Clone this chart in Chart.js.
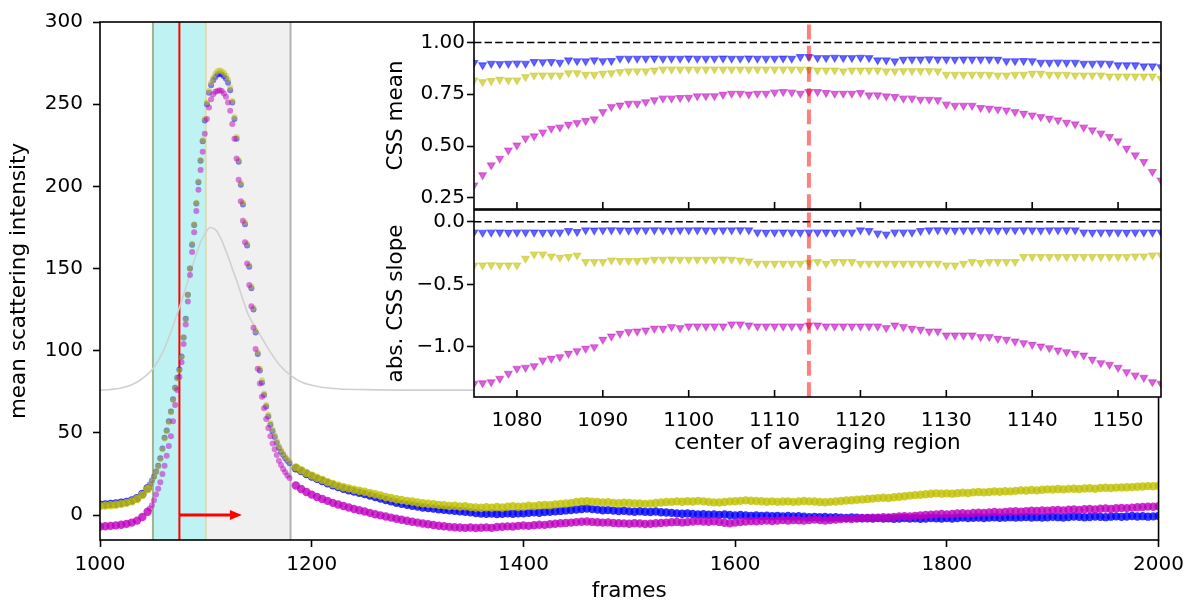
<!DOCTYPE html>
<html><head><meta charset="utf-8">
<script src="https://cdn.jsdelivr.net/npm/chart.js@4.4.0/dist/chart.umd.min.js"></script>
<style>
html,body{margin:0;padding:0;background:#fff;}
#wrap{position:relative;width:1190px;height:604px;overflow:hidden;}
canvas{position:absolute;left:0;top:0;width:1190px;height:604px;}
</style></head>
<body><div id="wrap">
<canvas id="main" width="1190" height="604"></canvas>
<canvas id="insetTop" width="1190" height="604"></canvas>
<canvas id="insetBot" width="1190" height="604"></canvas>
</div>
<script>
// ---------- main panel: frame sampling ----------
const headFrames = [1000,1005,1010,1015,1020,1025,1030,1035,1040,1045];
const peakFrames = Array.from({length:67},(_,i)=>1047+2*i);   // 1047..1179
const tailFrames = Array.from({length:164},(_,i)=>1185+5*i);  // 1185..2000

const yellowHead = [5.5,5.7,6.0,6.3,6.8,7.4,8.3,9.8,12.2,15.8];
const yellowPeak = [18,20.5,23,26,29.5,34,40,46.5,51,56.5,
  62.5,70,77,83,88,96,108,119,134,150,
  165,177,190,203,216,228,241,251,258,263,
  266,268.5,270,270.5,270,269,267.5,265,260,252,
  242,230,216,202,190,178,165,152,139,126,
  112,99,89,82,74,67,61,56,52,48.5,
  45,42,39.5,37.5,35.5,34,32.5];
const yellowTail = [29.0,27.2,25.6,24.0,22.6,21.4,20.0,18.9,17.8,16.9,
  16.2,15.4,14.8,14.2,13.4,12.6,11.9,11.0,10.4,9.6,
  9.1,8.6,8.2,7.6,7.2,6.9,6.6,6.2,6.0,5.5,
  5.6,5.2,5.3,4.8,4.6,4.4,4.7,4.5,4.9,4.6,
  5.0,5.3,5.0,5.2,5.6,5.4,5.9,6.1,6.0,6.5,
  6.8,7.0,7.4,7.9,8.3,8.4,8.1,8.0,7.7,7.8,
  7.4,7.2,7.5,7.3,7.0,7.1,6.8,6.9,7.3,7.6,
  7.9,8.0,8.3,8.1,8.4,8.2,8.6,8.3,8.0,7.7,
  7.6,7.9,8.3,8.4,8.6,8.9,8.7,8.5,8.4,8.1,
  8.3,8.0,8.2,8.3,8.0,8.2,8.5,8.3,8.2,7.9,
  7.8,8.0,8.2,8.5,8.8,9.0,9.3,9.5,9.8,10.0,
  10.3,10.5,10.4,10.8,11.1,11.4,11.8,12.1,12.3,12.6,
  12.9,13.2,13.0,13.2,13.0,13.3,13.6,13.4,13.8,14.0,
  13.8,14.0,14.3,14.2,14.5,14.4,14.7,15.0,14.9,15.2,
  15.0,15.4,15.6,15.5,15.8,15.6,15.9,16.0,15.8,16.1,
  16.3,16.0,16.4,16.6,16.4,16.7,16.8,16.9,17.0,17.2,
  17.4,17.6,17.5,17.8];

const blueHead = [6.3,6.5,6.8,7.0,7.5,8.0,8.9,10.3,12.8,16.3];
const bluePeak = [18.5,21,23.5,26.5,30,34.5,40.5,47,51.5,57,
  63,70.5,77.5,83.5,88.5,96.5,108,119.5,134,150,
  164.5,176.5,189.5,202.5,215.5,227.5,240,250,257,261.5,
  264.5,266.5,268,268.5,268,267,265.5,263,258.5,251,
  241,229,215,201,189,177,164,151,138,125,
  111,98,88,80.5,73,66,60,55,51,47.5,
  44,41,38.5,36.5,34.5,33,31.5];
const blueTail = [28.5,26.7,25.0,23.4,22.0,20.7,19.3,18.1,17.0,16.0,
  15.1,14.3,13.5,12.7,11.8,10.9,10.0,9.1,8.3,7.5,
  6.8,6.2,5.6,5.1,4.6,4.2,3.9,3.5,3.2,2.9,
  2.6,2.3,2.0,1.6,1.2,0.9,0.7,0.9,0.6,0.8,
  1.0,0.8,1.1,1.0,1.3,1.6,1.4,1.8,2.0,2.3,
  2.5,2.8,3.1,3.4,3.7,4.0,3.6,3.3,2.9,3.0,
  2.7,2.4,2.6,2.2,2.0,2.3,2.0,1.8,2.1,1.7,
  1.5,1.3,1.0,0.8,0.9,0.6,0.4,0.5,0.2,0.4,
  0.1,0.3,0.0,-0.2,0.1,-0.3,-0.5,-0.2,-0.6,-0.4,
  -0.7,-0.5,-0.8,-0.6,-0.9,-0.7,-1.0,-1.3,-1.1,-1.4,
  -1.2,-1.5,-1.3,-1.6,-1.8,-1.5,-1.7,-2.0,-1.8,-2.1,
  -1.9,-2.2,-2.0,-2.3,-2.1,-1.9,-2.2,-2.0,-2.3,-2.1,
  -1.8,-2.0,-2.2,-1.9,-2.1,-1.8,-1.6,-1.9,-1.7,-1.5,
  -1.8,-1.6,-1.4,-1.7,-1.5,-1.3,-1.6,-1.4,-1.2,-1.5,
  -1.3,-1.6,-1.4,-1.1,-1.3,-1.5,-1.2,-0.9,-1.1,-1.4,
  -1.2,-0.9,-1.1,-1.3,-1.0,-0.8,-1.1,-0.9,-0.6,-0.9,
  -0.7,-1.0,-0.8,-0.6];

const magentaHead = [-7,-6.8,-6.6,-6.3,-5.9,-5.4,-4.6,-3.4,-1.2,2.0];
const magentaPeak = [4,6,9,12.5,16,20,25,30,36,42,
  48,57,67,76,84,93,104,116,130,146,
  160,172,185,198,210,221,232,241,248,253,
  256,257.5,258,258.5,258,256.5,254.5,251,246,238,
  229,217,204,191,179,166,153,140,127,114,
  101,89,80,72,65,58.5,53,48,43.5,40,
  36.5,33,30.5,28,26,24,22.5];
const magentaTail = [18.0,15.8,14.0,12.4,11.0,9.8,8.6,7.4,6.4,5.5,
  4.6,3.7,2.9,2.1,1.3,0.5,-0.2,-0.9,-1.6,-2.3,
  -2.9,-3.5,-4.1,-4.6,-5.2,-5.6,-6.1,-6.5,-6.8,-7.2,
  -7.4,-7.6,-7.8,-7.6,-7.9,-7.7,-7.5,-7.8,-7.3,-7.1,
  -6.9,-7.0,-6.6,-6.4,-6.6,-6.2,-5.9,-6.0,-5.6,-5.3,
  -5.0,-4.8,-4.6,-4.3,-4.1,-3.9,-4.2,-4.4,-4.6,-4.5,
  -4.8,-5.0,-5.1,-5.3,-5.0,-5.2,-5.5,-5.3,-5.0,-4.8,
  -4.6,-4.4,-4.2,-4.5,-4.3,-4.0,-3.7,-3.9,-4.1,-3.8,
  -4.2,-4.7,-5.0,-4.6,-4.3,-3.9,-3.6,-3.8,-3.5,-3.3,
  -3.6,-3.4,-3.1,-3.3,-3.0,-3.2,-3.4,-3.1,-2.8,-3.0,
  -3.3,-3.0,-2.7,-2.5,-2.2,-2.4,-2.1,-1.8,-2.0,-1.7,
  -1.6,-1.4,-1.5,-1.1,-0.9,-0.7,-0.9,-0.5,-0.2,0.0,
  0.2,0.4,0.6,0.3,0.6,0.9,1.1,0.8,1.2,1.4,
  1.3,1.6,1.8,1.5,1.9,2.1,2.3,2.0,2.4,2.6,
  2.5,2.8,2.6,2.9,3.1,2.8,3.2,3.4,3.1,3.5,
  3.7,3.4,3.8,4.0,3.7,4.1,4.3,4.2,4.5,4.7,
  4.9,5.1,5.0,5.3];

// light gray reference curve
const grayFrames = [1000,1010,1020,1030,1040,1050,1060,1070,1080,1090,1095,1100,1104,1110,1115,1120,1125,1130,1135,1140,1145,1150,1160,1170,1180,1190,1200,1220,1250,1300,1400,1500,2000];
const grayValues = [76,76.4,77.3,79.3,83,89,100,117,136,157,166,172,175,173,167,159,150,141,131,122,116,111,100,91,85,81,79,77,76.3,76,76,76,76];

// annotations (frames)
const averagingStart = 1050, averagingEnd = 1100, windowEnd = 1180, startFrame = 1075, arrowEnd = 1134;

const mainXTicks = [1000,1200,1400,1600,1800,2000];
const mainYTicks = [0,50,100,150,200,250,300];

// ---------- insets ----------
const insetCenters = Array.from({length:81},(_,i)=>1075+i); // 1075..1155
const chosenCenter = 1114;
const insetXTicks = [1080,1090,1100,1110,1120,1130,1140,1150];
const meanYTicks = [0.25,0.50,0.75,1.00];
const slopeYTicks = [-1.0,-0.5,0.0];

const meanBlue = [0.902,0.891,0.898,0.897,0.898,0.899,0.898,0.907,0.906,0.907,
  0.903,0.915,0.911,0.910,0.915,0.911,0.912,0.923,0.922,0.923,
  0.923,0.924,0.922,0.923,0.923,0.924,0.923,0.922,0.923,0.924,
  0.923,0.923,0.924,0.923,0.922,0.923,0.924,0.923,0.931,0.931,
  0.926,0.926,0.927,0.926,0.926,0.927,0.926,0.915,0.915,0.910,
  0.918,0.919,0.919,0.920,0.919,0.919,0.918,0.919,0.919,0.919,
  0.919,0.918,0.911,0.911,0.912,0.911,0.903,0.903,0.904,0.903,
  0.903,0.898,0.898,0.899,0.898,0.891,0.891,0.891,0.886,0.886,
  0.882];
const meanYellow = [0.818,0.810,0.815,0.821,0.818,0.818,0.834,0.842,0.842,0.842,
  0.842,0.853,0.853,0.845,0.845,0.850,0.853,0.858,0.862,0.862,
  0.862,0.866,0.870,0.870,0.870,0.871,0.870,0.870,0.871,0.870,
  0.870,0.871,0.870,0.870,0.871,0.870,0.870,0.871,0.870,0.870,
  0.866,0.866,0.866,0.862,0.866,0.866,0.866,0.866,0.862,0.862,
  0.863,0.863,0.863,0.863,0.862,0.845,0.845,0.845,0.845,0.845,
  0.845,0.842,0.842,0.845,0.845,0.850,0.850,0.845,0.845,0.845,
  0.842,0.842,0.842,0.842,0.837,0.837,0.837,0.837,0.837,0.837,
  0.826];
const meanMagenta = [0.311,0.360,0.408,0.440,0.480,0.504,0.537,0.548,0.566,0.585,
  0.590,0.604,0.612,0.622,0.630,0.665,0.689,0.697,0.705,0.705,
  0.713,0.722,0.730,0.730,0.733,0.734,0.741,0.742,0.742,0.749,
  0.754,0.754,0.750,0.754,0.754,0.759,0.762,0.759,0.754,0.762,
  0.762,0.757,0.754,0.754,0.754,0.757,0.746,0.746,0.741,0.738,
  0.730,0.730,0.725,0.725,0.722,0.701,0.695,0.695,0.695,0.685,
  0.681,0.678,0.673,0.665,0.657,0.649,0.641,0.633,0.625,0.614,
  0.606,0.590,0.577,0.561,0.545,0.524,0.488,0.456,0.424,0.376,
  0.335];

const slopeBlue = [-0.085,-0.087,-0.085,-0.084,-0.086,-0.085,-0.085,-0.084,-0.086,-0.085,
  -0.085,-0.072,-0.080,-0.067,-0.068,-0.067,-0.066,-0.067,-0.068,-0.067,
  -0.067,-0.066,-0.067,-0.068,-0.067,-0.067,-0.066,-0.067,-0.068,-0.067,
  -0.067,-0.066,-0.067,-0.085,-0.086,-0.085,-0.084,-0.085,-0.086,-0.085,
  -0.085,-0.084,-0.086,-0.085,-0.085,-0.067,-0.072,-0.093,-0.101,-0.085,
  -0.085,-0.085,-0.072,-0.067,-0.066,-0.067,-0.068,-0.067,-0.067,-0.066,
  -0.067,-0.068,-0.067,-0.067,-0.066,-0.067,-0.068,-0.067,-0.067,-0.066,
  -0.067,-0.085,-0.086,-0.085,-0.084,-0.085,-0.086,-0.085,-0.085,-0.084,
  -0.085];
const slopeYellow = [-0.347,-0.347,-0.346,-0.347,-0.348,-0.347,-0.293,-0.259,-0.259,-0.275,
  -0.285,-0.280,-0.267,-0.320,-0.320,-0.320,-0.307,-0.312,-0.312,-0.312,
  -0.307,-0.301,-0.301,-0.300,-0.301,-0.301,-0.302,-0.301,-0.301,-0.300,
  -0.301,-0.307,-0.315,-0.333,-0.333,-0.334,-0.333,-0.333,-0.333,-0.325,
  -0.320,-0.333,-0.320,-0.320,-0.320,-0.333,-0.333,-0.333,-0.333,-0.333,
  -0.333,-0.333,-0.333,-0.333,-0.333,-0.347,-0.347,-0.333,-0.320,-0.328,
  -0.320,-0.320,-0.320,-0.320,-0.280,-0.280,-0.280,-0.280,-0.280,-0.280,
  -0.280,-0.280,-0.280,-0.280,-0.280,-0.280,-0.280,-0.275,-0.275,-0.267,
  -0.267];
const slopeMagenta = [-1.293,-1.288,-1.280,-1.253,-1.213,-1.173,-1.165,-1.152,-1.107,-1.093,
  -1.080,-1.053,-1.032,-1.013,-1.000,-0.941,-0.915,-0.893,-0.880,-0.875,
  -0.867,-0.853,-0.853,-0.840,-0.848,-0.835,-0.835,-0.835,-0.835,-0.835,
  -0.819,-0.819,-0.827,-0.835,-0.835,-0.835,-0.835,-0.835,-0.835,-0.827,
  -0.827,-0.835,-0.835,-0.835,-0.835,-0.835,-0.835,-0.835,-0.848,-0.827,
  -0.840,-0.853,-0.861,-0.875,-0.875,-0.907,-0.907,-0.907,-0.907,-0.920,
  -0.920,-0.933,-0.941,-0.955,-0.968,-0.981,-0.995,-1.008,-1.027,-1.040,
  -1.053,-1.067,-1.101,-1.128,-1.141,-1.165,-1.200,-1.227,-1.245,-1.280,
  -1.293];

// ---------- helpers ----------
Chart.defaults.font.family = "'DejaVu Sans', sans-serif";
Chart.defaults.font.size = 20;
Chart.defaults.color = '#000';
const titleFont = {family:"'DejaVu Sans', sans-serif", size:21.5};

const pts = (xs, ys) => xs.map((x,i)=>({x, y: ys[i]}));
const scanFrames = headFrames.concat(peakFrames, tailFrames);
const BLUE='0,0,255', YEL='191,191,0', MAG='191,0,191';
const dense = (ctx) => ctx.raw && (ctx.raw.x < 1046 || ctx.raw.x > 1182);
const dotColor = (rgb) => (ctx) => dense(ctx) ? `rgba(${rgb},0.8)` : `rgba(${rgb},0.5)`;
const dotRadius = (ctx) => dense(ctx) ? 4.2 : 3.0;
const fixTicks = (arr) => (s) => { s.ticks = arr.map(v=>({value:v})); };
const minus = (s) => s.replace('-', '\u2212');

function frame(chart){
  const {ctx, chartArea:a} = chart;
  ctx.save(); ctx.strokeStyle='#000'; ctx.lineWidth=1.6;
  ctx.strokeRect(a.left, a.top, a.right-a.left, a.bottom-a.top);
  ctx.restore();
}
function vline(ctx, x, a, color, w){
  ctx.beginPath(); ctx.strokeStyle=color; ctx.lineWidth=w;
  ctx.moveTo(x, a.bottom); ctx.lineTo(x, a.top); ctx.stroke();
}

const mainDecor = {
  id:'mainDecor',
  beforeDatasetsDraw(chart){
    const {ctx, chartArea:a, scales:{x}} = chart;
    const c0=x.getPixelForValue(averagingStart), c1=x.getPixelForValue(averagingEnd), g1=x.getPixelForValue(windowEnd);
    ctx.save();
    ctx.fillStyle='#f0f0f0'; ctx.fillRect(c1, a.top, g1-c1, a.bottom-a.top);
    ctx.fillStyle='#bff2f2'; ctx.fillRect(c0, a.top, c1-c0, a.bottom-a.top);
    vline(ctx, c0, a, '#a2b28e', 2);
    vline(ctx, c1, a, '#dcdcb4', 2);
    vline(ctx, g1, a, '#b4b4b4', 2);
    vline(ctx, x.getPixelForValue(startFrame), a, '#ff0000', 2);
    ctx.restore();
  },
  afterDatasetsDraw(chart){
    const {ctx, scales:{x,y}} = chart;
    const x0=x.getPixelForValue(startFrame), x1=x.getPixelForValue(arrowEnd), y0=y.getPixelForValue(0);
    ctx.save();
    ctx.strokeStyle='#ff0000'; ctx.fillStyle='#ff0000'; ctx.lineWidth=3;
    ctx.beginPath(); ctx.moveTo(x0, y0); ctx.lineTo(x1-10, y0); ctx.stroke();
    ctx.beginPath(); ctx.moveTo(x1, y0); ctx.lineTo(x1-12, y0-5); ctx.lineTo(x1-12, y0+5); ctx.closePath(); ctx.fill();
    ctx.restore();
  },
  afterDraw(chart){ frame(chart); }
};

function insetDecor(refY){
  return {
    id:'insetDecor',
    beforeDraw(chart){
      const {ctx, chartArea:a} = chart;
      ctx.save(); ctx.fillStyle='#fff'; ctx.fillRect(a.left, a.top, a.right-a.left, a.bottom-a.top); ctx.restore();
    },
    beforeDatasetsDraw(chart){
      const {ctx, chartArea:a, scales:{y}} = chart;
      const py = y.getPixelForValue(refY);
      ctx.save(); ctx.strokeStyle='#000'; ctx.lineWidth=1.6; ctx.setLineDash([7.4,3.2]);
      ctx.beginPath(); ctx.moveTo(a.left, py); ctx.lineTo(a.right, py); ctx.stroke(); ctx.restore();
    },
    afterDatasetsDraw(chart){
      const {ctx, chartArea:a, scales:{x}} = chart;
      const px = x.getPixelForValue(chosenCenter);
      ctx.save(); ctx.beginPath(); ctx.rect(a.left, a.top, a.right-a.left, a.bottom-a.top); ctx.clip();
      ctx.strokeStyle='rgba(255,0,0,0.5)'; ctx.lineWidth=4; ctx.setLineDash([14.8,6.4]);
      ctx.beginPath(); ctx.moveTo(px, a.bottom); ctx.lineTo(px, a.top); ctx.stroke(); ctx.restore();
    },
    afterDraw(chart){
      const {ctx, chartArea:a, scales:{x}} = chart;
      ctx.save(); ctx.strokeStyle='#000'; ctx.lineWidth=1.6;
      insetXTicks.forEach(v=>{ const px=x.getPixelForValue(v); ctx.beginPath(); ctx.moveTo(px, a.bottom); ctx.lineTo(px, a.bottom-7); ctx.stroke(); });
      ctx.restore();
      frame(chart);
    }
  };
}

const tri = (rgb) => ({pointStyle:'triangle', rotation:180, pointRadius:4.4, borderWidth:1.2,
  backgroundColor:`rgba(${rgb},0.6)`, borderColor:`rgba(${rgb},0.45)`});

// ---------- main chart ----------
new Chart(document.getElementById('main'), {
  type:'scatter',
  data:{ datasets:[
    {data: pts(scanFrames, magentaHead.concat(magentaPeak, magentaTail)), backgroundColor: dotColor(MAG), borderWidth:0, pointRadius: dotRadius},
    {data: pts(scanFrames, yellowHead.concat(yellowPeak, yellowTail)), backgroundColor: dotColor(YEL), borderWidth:0, pointRadius: dotRadius},
    {data: pts(scanFrames, blueHead.concat(bluePeak, blueTail)), backgroundColor: dotColor(BLUE), borderWidth:0, pointRadius: dotRadius},
    {type:'line', data: pts(grayFrames, grayValues), borderColor:'#d0d0d0', borderWidth:1.6, pointRadius:0, showLine:true, fill:false, cubicInterpolationMode:'monotone'}
  ]},
  options:{
    responsive:false, animation:false, devicePixelRatio:1,
    layout:{padding:{left:0,right:30,top:22,bottom:0}},
    plugins:{legend:{display:false}, tooltip:{enabled:false}},
    scales:{
      x:{type:'linear', min:1000, max:2000, afterFit:(s)=>{s.height=64;}, afterBuildTicks: fixTicks(mainXTicks),
         grid:{drawOnChartArea:false, drawTicks:true, tickLength:7, tickWidth:1.6, tickColor:'#000'},
         border:{display:false},
         ticks:{padding:6, autoSkip:false, maxRotation:0, callback:(v)=>String(v)},
         title:{display:true, text:'frames', font:titleFont, padding:{top:0,bottom:0}}},
      y:{type:'linear', min:-15.2, max:300, afterFit:(s)=>{s.width=100;}, afterBuildTicks: fixTicks(mainYTicks),
         grid:{drawOnChartArea:false, drawTicks:true, tickLength:7, tickWidth:1.6, tickColor:'#000'},
         border:{display:false},
         ticks:{padding:10, autoSkip:false, callback:(v)=>String(v)},
         title:{display:true, text:'mean scattering intensity', font:titleFont, padding:{top:7,bottom:0}}}
    }
  },
  plugins:[mainDecor]
});

// ---------- inset: CSS mean ----------
new Chart(document.getElementById('insetTop'), {
  type:'scatter',
  data:{ datasets:[
    Object.assign({data: pts(insetCenters, meanBlue)}, tri(BLUE)),
    Object.assign({data: pts(insetCenters, meanYellow)}, tri(YEL)),
    Object.assign({data: pts(insetCenters, meanMagenta)}, tri(MAG))
  ]},
  options:{
    responsive:false, animation:false, devicePixelRatio:1,
    layout:{padding:{left:380,right:29,top:22,bottom:395}},
    plugins:{legend:{display:false}, tooltip:{enabled:false}},
    scales:{
      x:{type:'linear', min:1075, max:1155, display:false},
      y:{type:'linear', min:0.196, max:1.099, afterFit:(s)=>{s.width=94;}, afterBuildTicks: fixTicks(meanYTicks),
         grid:{drawOnChartArea:false, drawTicks:true, tickLength:7, tickWidth:1.6, tickColor:'#000'},
         border:{display:false},
         ticks:{padding:2, autoSkip:false, callback:(v)=>v.toFixed(2)},
         title:{display:true, text:'CSS mean', font:titleFont, padding:{top:4,bottom:0}}}
    }
  },
  plugins:[insetDecor(1.0)]
});

// ---------- inset: abs. CSS slope ----------
new Chart(document.getElementById('insetBot'), {
  type:'scatter',
  data:{ datasets:[
    Object.assign({data: pts(insetCenters, slopeBlue)}, tri(BLUE)),
    Object.assign({data: pts(insetCenters, slopeYellow)}, tri(YEL)),
    Object.assign({data: pts(insetCenters, slopeMagenta)}, tri(MAG))
  ]},
  options:{
    responsive:false, animation:false, devicePixelRatio:1,
    layout:{padding:{left:380,right:29,top:210,bottom:145}},
    plugins:{legend:{display:false}, tooltip:{enabled:false}},
    scales:{
      x:{type:'linear', min:1075, max:1155, afterFit:(s)=>{s.height=62;}, afterBuildTicks: fixTicks(insetXTicks),
         grid:{display:false}, border:{display:false},
         ticks:{padding:4, autoSkip:false, maxRotation:0, callback:(v)=>String(v)},
         title:{display:true, text:'center of averaging region', font:titleFont, padding:{top:0,bottom:3}}},
      y:{type:'linear', min:-1.4, max:0.094, afterFit:(s)=>{s.width=94;}, afterBuildTicks: fixTicks(slopeYTicks),
         grid:{drawOnChartArea:false, drawTicks:true, tickLength:7, tickWidth:1.6, tickColor:'#000'},
         border:{display:false},
         ticks:{padding:2, autoSkip:false, callback:(v)=>minus(v.toFixed(1))},
         title:{display:true, text:'abs. CSS slope', font:titleFont, padding:{top:4,bottom:0}}}
    }
  },
  plugins:[insetDecor(0.0)]
});
</script>
</body></html>
